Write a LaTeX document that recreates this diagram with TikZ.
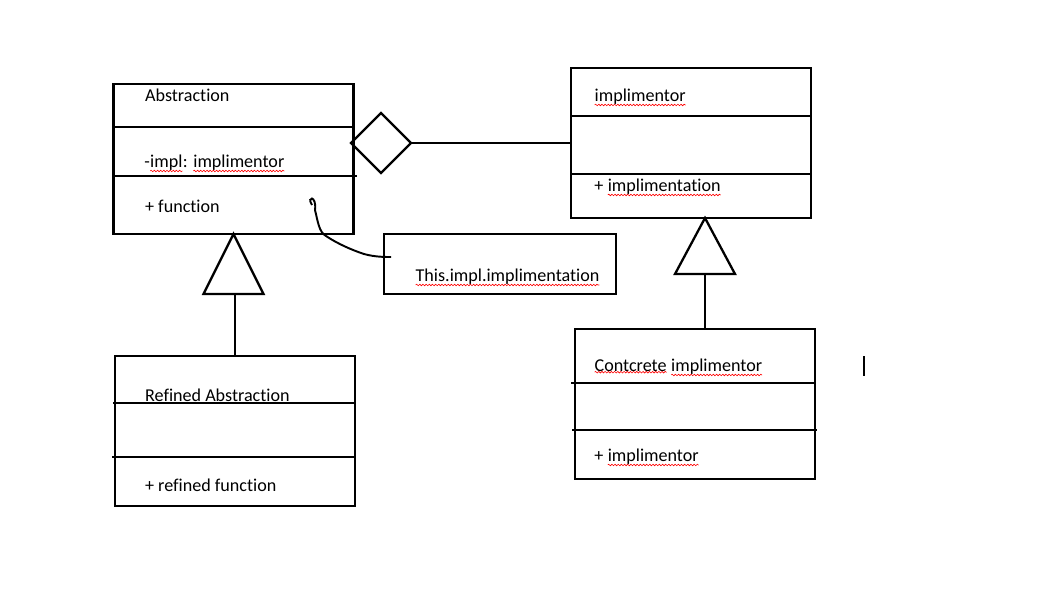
\documentclass[tikz,border=0pt]{standalone}
\usepackage{fontspec}
\setmainfont[Ligatures={NoCommon}]{Carlito}
\usepackage{tikz}
\usetikzlibrary{decorations.pathmorphing}
\usetikzlibrary{shapes.geometric}
\usetikzlibrary{calc}

\tikzset{squiggle/.style={draw=red, line width=0.35pt, decorate,
    decoration={snake, amplitude=0.45pt, segment length=1.8pt}}}
% word with the red spell-check underline
\newcommand\typo[1]{\tikz[baseline=(typo.base)]{\node[inner sep=0pt, outer sep=0pt, anchor=base] (typo) {#1};%
    \draw[squiggle] ([yshift=-0.6pt]typo.south west) -- ([yshift=-0.6pt]typo.south east);}}

\begin{document}
\begin{tikzpicture}[x=0.02cm, y=-0.02cm, line width=1.3pt,
    classbox/.style={rectangle, draw, inner sep=0pt, outer sep=0pt, minimum width=4.8cm, minimum height=3cm},
    member/.style={anchor=base west, inner sep=0pt, font=\fontsize{10.3pt}{12pt}\selectfont}]

      \useasboundingbox (0,0) rectangle (1062,593);

      % classes
      \node[classbox] (abs) at (233.5, 159) {};
      \node[classbox] (imp) at (691, 143) {};
      \node[classbox] (con) at (695, 404) {};
      \node[classbox] (ref) at (235, 431) {};
      \node[classbox, minimum width=4.64cm, minimum height=1.2cm] (note) at (500, 264) {};

      % compartments
      \draw (114,127) -- (353,127);
      \draw (114,176) -- (357,176);
      \draw (570,116) -- (812,116);
      \draw (572,174) -- (810,174);
      \draw (571,383) -- (815,383);
      \draw (572,430) -- (817,430);
      \draw (113,403) -- (355,403);
      \draw (112,457) -- (354,457);

      \node[member] (absName) at (144,101) {Abstraction};
      \node[member] (absField) at (144,167) {-\typo{impl}: \typo{implimentor}};
      \node[member] (absOp) at (144,212) {+ function};

      \node[member] (impName) at (594,101) {\typo{implimentor}};
      \node[member] (impOp) at (594,191) {+ \typo{implimentation}};

      \node[member] (conName) at (594,371) {\typo{Contcrete} \typo{implimentor}};
      \node[member] (conOp) at (594,461) {+ \typo{implimentor}};

      \node[member] (refName) at (144,401) {Refined Abstraction};
      \node[member] (refOp) at (144,491) {+ refined function};

      \node[member] (noteText) at (415,281) {\typo{This.impl.implimentation}};

      % aggregation
      \node[diamond, draw, inner sep=0pt, outer sep=0pt, minimum width=1.2cm, minimum height=1.2cm] (agg) at (381,143) {};
      \draw (agg.east) -- (imp.west);

      % generalisations
      \coordinate (absBase) at ($(abs.south)+(0,60)$);
      \draw (abs.south) -- ++(30,60) -- ++(-60,0) -- cycle;
      \draw (ref.north) -- (ref.north |- absBase);

      \coordinate (impTip) at ($(imp.south)+(14,0)$);
      \coordinate (impBase) at ($(impTip)+(0,56)$);
      \draw (impTip) -- ++(30,56) -- ++(-60,0) -- cycle;
      \draw (impBase) -- (impBase |- con.north);

      % note link
      \coordinate (scrib) at (312,205);
      \draw[line width=1.1pt] (scrib) .. controls (306,196) and (317,195) .. (315,210)
        .. controls (318,222) and (319,232) .. (326,236)
        .. controls (338,244) and (352,250) .. (364,254)
        .. controls (375,257) and (385,257) .. ($(note.west)+(7,-7)$);

      % text cursor
      \draw[line width=0.6pt] (864,356) -- (864,376);
    \end{tikzpicture}
\end{document}
